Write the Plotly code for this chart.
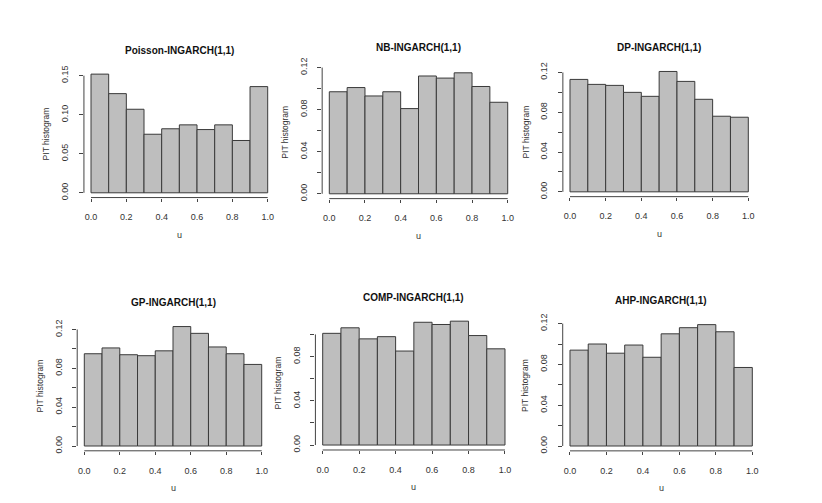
import plotly.graph_objects as go

# ---- data ----
bin_centers = [0.05, 0.15, 0.25, 0.35, 0.45, 0.55, 0.65, 0.75, 0.85, 0.95]
titles = ["Poisson-INGARCH(1,1)", "NB-INGARCH(1,1)", "DP-INGARCH(1,1)",
          "GP-INGARCH(1,1)", "COMP-INGARCH(1,1)", "AHP-INGARCH(1,1)"]
poisson = [0.152, 0.127, 0.107, 0.075, 0.082, 0.087, 0.081, 0.087, 0.067, 0.136]
nb      = [0.097, 0.101, 0.093, 0.097, 0.081, 0.112, 0.110, 0.115, 0.102, 0.087]
dp      = [0.113, 0.108, 0.107, 0.100, 0.096, 0.121, 0.111, 0.093, 0.076, 0.075]
gp      = [0.095, 0.101, 0.094, 0.093, 0.098, 0.123, 0.116, 0.102, 0.095, 0.084]
comp    = [0.101, 0.106, 0.096, 0.098, 0.085, 0.111, 0.109, 0.112, 0.099, 0.087]
ahp     = [0.094, 0.100, 0.091, 0.099, 0.087, 0.110, 0.116, 0.119, 0.112, 0.077]
series = [poisson, nb, dp, gp, comp, ahp]

x_tickvals = [0.0, 0.2, 0.4, 0.6, 0.8, 1.0]
x_ticktext = ["0.0", "0.2", "0.4", "0.6", "0.8", "1.0"]
y_ticks = [
    ([0.00, 0.05, 0.10, 0.15], ["0.00", "0.05", "0.10", "0.15"]),
    ([0.00, 0.02, 0.04, 0.06, 0.08, 0.10, 0.12], ["0.00", "", "0.04", "", "0.08", "", "0.12"]),
    ([0.00, 0.02, 0.04, 0.06, 0.08, 0.10, 0.12], ["0.00", "", "0.04", "", "0.08", "", "0.12"]),
    ([0.00, 0.02, 0.04, 0.06, 0.08, 0.10, 0.12], ["0.00", "", "0.04", "", "0.08", "", "0.12"]),
    ([0.00, 0.02, 0.04, 0.06, 0.08, 0.10], ["0.00", "", "0.04", "", "0.08", ""]),
    ([0.00, 0.02, 0.04, 0.06, 0.08, 0.10, 0.12], ["0.00", "", "0.04", "", "0.08", "", "0.12"]),
]

# ---- layout geometry (pixels): x=0 px, x=1 px, y=0 px, reference tick value & px ----
W, H = 822, 503
geom = [
    (91.0, 267.7, 188.3, 0.15, 68.3),
    (329.3, 507.7, 189.3, 0.12, 60.0),
    (570.0, 748.3, 187.3, 0.12, 65.0),
    (84.3, 261.7, 447.7, 0.12, 328.3),
    (322.7, 505.0, 446.7, 0.10, 333.4),
    (570.0, 752.3, 447.7, 0.12, 322.3),
]

FONT = "Liberation Sans, Arial, sans-serif"
AX = "#444444"

fig = go.Figure()
layout = dict(width=W, height=H, margin=dict(l=0, r=0, t=0, b=0),
              paper_bgcolor="white", plot_bgcolor="white", showlegend=False,
              font=dict(family=FONT, size=9, color="#333333"))
shapes, annotations = [], []

for i, (vals, title, (xb0, xb1, y0, tv, tp), (yt_vals, yt_text)) in enumerate(
        zip(series, titles, geom, y_ticks)):
    n = i + 1
    xa = "x" if n == 1 else f"x{n}"
    ya = "y" if n == 1 else f"y{n}"
    sx = xb1 - xb0
    left, right = xb0 - 0.04 * sx, xb1 + 0.04 * sx
    sy = (y0 - tp) / tv
    M = max(vals)
    ylo = -0.04 * M
    yhi = max(1.04 * M, yt_vals[-1] * 1.01)
    bottom = y0 - ylo * sy
    top = y0 - yhi * sy

    fig.add_trace(go.Bar(x=bin_centers, y=vals, width=0.1, xaxis=xa, yaxis=ya,
                         marker=dict(color="#BEBEBE", line=dict(color="#3a3a3a", width=1)),
                         hoverinfo="x+y"))

    layout["xaxis" if n == 1 else f"xaxis{n}"] = dict(
        domain=[left / W, right / W], range=[-0.04, 1.04], anchor=ya,
        showgrid=False, zeroline=False, showline=False,
        tickvals=x_tickvals, ticktext=x_ticktext, ticks="outside", ticklen=3,
        tickcolor=AX, tickwidth=1, ticklabelstandoff=8,
        tickfont=dict(family=FONT, size=9, color="#333333"))
    layout["yaxis" if n == 1 else f"yaxis{n}"] = dict(
        domain=[1 - bottom / H, 1 - top / H], range=[ylo, yhi], anchor=xa,
        showgrid=False, zeroline=False, showline=False,
        tickvals=yt_vals, ticktext=yt_text, ticks="outside", ticklen=4,
        tickcolor=AX, tickwidth=1, tickangle=-90, ticklabelstandoff=7,
        tickfont=dict(family=FONT, size=9, color="#333333"))

    # R-style axis lines spanning the tick range
    shapes.append(dict(type="line", xref=xa, yref=f"{ya} domain", x0=x_tickvals[0],
                       x1=x_tickvals[-1], y0=0, y1=0, line=dict(color=AX, width=1)))
    shapes.append(dict(type="line", xref=f"{xa} domain", yref=ya, x0=0, x1=0,
                       y0=yt_vals[0], y1=yt_vals[-1], line=dict(color=AX, width=1)))

    annotations.append(dict(text=f"<b>{title}</b>", xref=f"{xa} domain", yref=f"{ya} domain",
                            x=0.5, y=1, yshift=19, showarrow=False, xanchor="center",
                            yanchor="middle", font=dict(family=FONT, size=10, color="#111111")))
    annotations.append(dict(text="u", xref=f"{xa} domain", yref=f"{ya} domain",
                            x=0.5, y=0, yshift=-37, showarrow=False, xanchor="center",
                            yanchor="middle", font=dict(family=FONT, size=9, color="#333333")))
    annotations.append(dict(text="PIT histogram", xref=f"{xa} domain", yref=f"{ya} domain",
                            x=0, y=0.5, xshift=-37, showarrow=False, textangle=-90,
                            xanchor="center", yanchor="middle",
                            font=dict(family=FONT, size=8.5, color="#333333")))

layout["shapes"] = shapes
layout["annotations"] = annotations
fig.update_layout(**layout)
fig.write_html("out.html", config={"displayModeBar": False},
               post_script="document.body.style.margin='0';document.body.style.overflow='hidden';")
